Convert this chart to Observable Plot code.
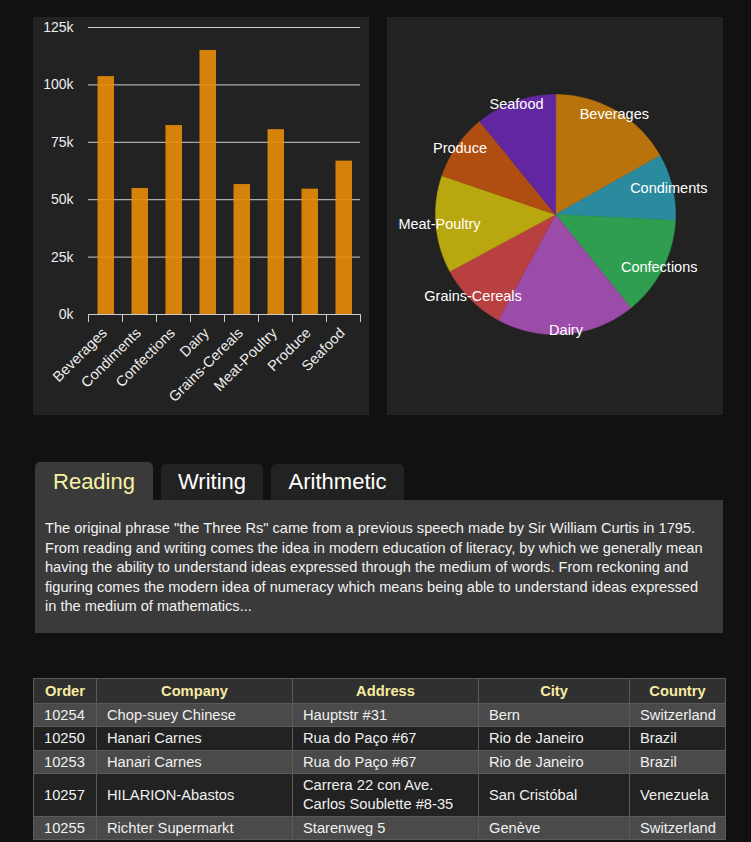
<!DOCTYPE html>
<html>
<head>
<meta charset="utf-8">
<script src="https://cdn.jsdelivr.net/npm/d3@7"></script>
<script src="https://cdn.jsdelivr.net/npm/@observablehq/plot@0.6"></script>
<style>
  html, body { margin: 0; padding: 0; }
  body { background: #111; width: 751px; height: 842px; overflow: hidden; position: relative;
         font-family: Arial, "Liberation Sans", sans-serif; color: #eee; }
  .panel { position: absolute; background: #222; top: 17px; width: 336px; height: 398px; }
  #bar { left: 33px; }
  #pie { left: 387px; }
  .tab { position: absolute; top: 464px; height: 36px; background: #222; border-radius: 5px 5px 0 0;
         font-size: 22px; line-height: 36px; text-align: center; color: #fff; }
  .tab.active { top: 462px; height: 38px; line-height: 39px; background: #3a3a3a; color: #f8f2a6; }
  #content { position: absolute; left: 35px; top: 500px; width: 688px; height: 133px; background: #3a3a3a;
             box-sizing: border-box; padding: 19px 10px 0 10px; font-size: 14.6px; line-height: 19.5px;
             color: #f2f2f2; white-space: nowrap; }
  table { position: absolute; left: 33px; top: 678px; border-collapse: collapse; font-size: 14.7px;
          table-layout: fixed; width: 692px; }
  th, td { border: 1px solid #5a5a5a; padding: 2px 10px 1.5px 10px; line-height: 19px; }
  th { background: #303030; color: #f8eca2; font-weight: bold; text-align: center; padding: 2.5px 10px 2px 10px; }
  td { text-align: left; color: #f0f0f0; }
  tr.odd td { background: #4a4a4a; }
  tr.even td { background: #222; }
</style>
</head>
<body>
<div id="bar" class="panel"></div>
<div id="pie" class="panel"></div>
<div id="tabs"></div>
<div id="content"></div>
<div id="tablewrap"></div>
<script>
// ---- data ----
const categories = ["Beverages", "Condiments", "Confections", "Dairy", "Grains-Cereals", "Meat-Poultry", "Produce", "Seafood"];
const sales = [103600, 54900, 82300, 115000, 56600, 80500, 54600, 66800];
const yTicks = [0, 25000, 50000, 75000, 100000, 125000];
const pieColors = ["#b8730c", "#2a8a9e", "#2f9e50", "#9b4ba8", "#b84040", "#b8a70e", "#b04e12", "#6126a0"];

const tabNames = ["Reading", "Writing", "Arithmetic"];
const tabLines = [
  "The original phrase \"the Three Rs\" came from a previous speech made by Sir William Curtis in 1795.",
  "From reading and writing comes the idea in modern education of literacy, by which we generally mean",
  "having the ability to understand ideas expressed through the medium of words. From reckoning and",
  "figuring comes the modern idea of numeracy which means being able to understand ideas expressed",
  "in the medium of mathematics..."
];

const tableHeaders = ["Order", "Company", "Address", "City", "Country"];
const orderIds = ["10254", "10250", "10253", "10257", "10255"];
const companies = ["Chop-suey Chinese", "Hanari Carnes", "Hanari Carnes", "HILARION-Abastos", "Richter Supermarkt"];
const addresses = ["Hauptstr #31", "Rua do Paço #67", "Rua do Paço #67", "Carrera 22 con Ave. Carlos Soublette #8-35", "Starenweg 5"];
const cities = ["Bern", "Rio de Janeiro", "Rio de Janeiro", "San Cristóbal", "Genève"];
const countries = ["Switzerland", "Brazil", "Brazil", "Venezuela", "Switzerland"];

// ---- bar chart ----
const rows = categories.map((c, i) => ({cat: c, i, value: sales[i]}));
const font = "Arial, 'Liberation Sans', sans-serif";

const bar = Plot.plot({
  width: 336, height: 398,
  marginLeft: 55, marginRight: 9, marginTop: 10, marginBottom: 101,
  style: {background: "transparent", color: "#eee", fontSize: "14px", fontFamily: font},
  x: {type: "linear", domain: [0, categories.length], axis: null},
  y: {domain: [0, 125000], axis: null},
  marks: [
    Plot.gridY(yTicks, {stroke: "#cccccc", strokeOpacity: 1}),
    Plot.rectY(rows, {x1: "i", x2: d => d.i + 1, y: "value", insetLeft: 9.5, insetRight: 8,
                      fill: "#e88d07", fillOpacity: 0.9}),
    Plot.text(yTicks, {y: d => d, frameAnchor: "left", dx: -15, textAnchor: "end",
                       text: d => d / 1000 + "k", fill: "#eee", fontSize: 14}),
    Plot.ruleY([0], {stroke: "#cccccc"}),
    Plot.axisX({ticks: d3.range(categories.length + 1), tickSize: 8, tickFormat: () => "",
                stroke: "#cccccc", label: null}),
    Plot.text(rows, {x: d => d.i + 0.5, y: 0, text: "cat", rotate: -45, textAnchor: "end",
                     dy: 16, dx: -1, fill: "#eee", fontSize: 14.5})
  ]
});
document.getElementById("bar").append(bar);

// ---- pie chart ----
const arcs = d3.pie().sort(null).value(d => d)(sales);
const piePts = [];
arcs.forEach((a, k) => {
  const cat = categories[k];
  piePts.push({cat, x: 0, y: 0});
  const n = Math.max(2, Math.ceil((a.endAngle - a.startAngle) / 0.01));
  for (let j = 0; j <= n; j++) {
    const t = a.startAngle + (a.endAngle - a.startAngle) * j / n;
    piePts.push({cat, x: Math.sin(t), y: Math.cos(t)});
  }
});
const pieLabels = arcs.map((a, k) => {
  const m = (a.startAngle + a.endAngle) / 2;
  return {cat: categories[k], x: 0.97 * Math.sin(m), y: 0.97 * Math.cos(m)};
});

const pie = Plot.plot({
  width: 336, height: 398, margin: 0,
  style: {background: "transparent", fontFamily: font},
  x: {domain: [-1.4, 1.4], axis: null},
  y: {domain: [-1.675, 1.6417], axis: null},
  color: {domain: categories, range: pieColors},
  marks: [
    Plot.line(piePts, {x: "x", y: "y", z: "cat", fill: "cat", stroke: "cat", strokeWidth: 0.5, curve: "linear-closed"}),
    Plot.text(pieLabels, {x: "x", y: "y", text: "cat", fill: "#fff", fontSize: 14.5})
  ]
});
document.getElementById("pie").append(pie);

// ---- tabs ----
const tabLeft = [35, 161, 271];
const tabWidth = [118, 102, 133];
const tabsEl = document.getElementById("tabs");
tabNames.forEach((n, i) => {
  const d = document.createElement("div");
  d.className = "tab" + (i === 0 ? " active" : "");
  d.style.left = tabLeft[i] + "px";
  d.style.width = tabWidth[i] + "px";
  d.textContent = n;
  tabsEl.append(d);
});
const content = document.getElementById("content");
tabLines.forEach((l, i) => {
  if (i) content.append(document.createElement("br"));
  content.append(document.createTextNode(l));
});

// ---- table ----
const colWidths = [63, 196, 186, 151, 96];
const table = document.createElement("table");
const cg = document.createElement("colgroup");
colWidths.forEach(w => { const c = document.createElement("col"); c.style.width = w + "px"; cg.append(c); });
table.append(cg);
const thead = document.createElement("tr");
tableHeaders.forEach(h => { const th = document.createElement("th"); th.textContent = h; thead.append(th); });
table.append(thead);
orderIds.forEach((id, r) => {
  const tr = document.createElement("tr");
  tr.className = r % 2 === 0 ? "odd" : "even";
  [id, companies[r], addresses[r], cities[r], countries[r]].forEach(v => {
    const td = document.createElement("td"); td.textContent = v; tr.append(td);
  });
  table.append(tr);
});
document.getElementById("tablewrap").append(table);
</script>
</body>
</html>
